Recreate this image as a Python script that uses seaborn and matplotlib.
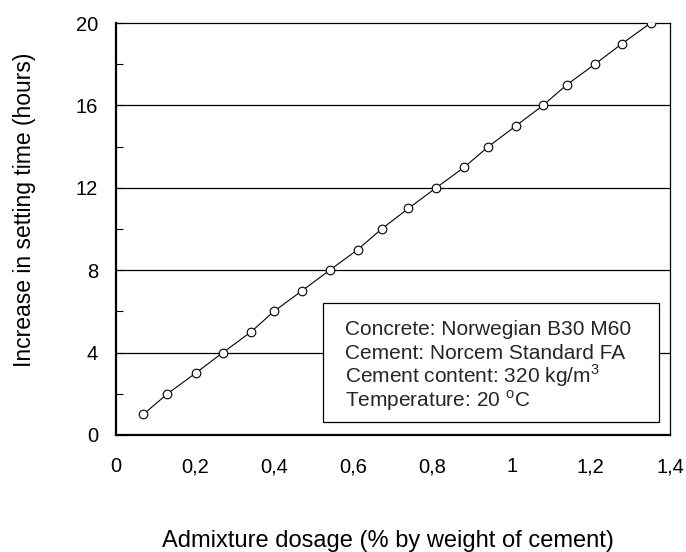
import numpy as np
import pandas as pd
import seaborn as sns
import matplotlib.pyplot as plt
from matplotlib.patches import Rectangle
from matplotlib.ticker import MultipleLocator

sns.set_theme(style="white")
plt.rcParams['font.family'] = ['Liberation Sans', 'DejaVu Sans']

# data
dosage = [0.069, 0.130, 0.201, 0.270, 0.341, 0.399, 0.470, 0.540, 0.611, 0.671,
          0.739, 0.809, 0.880, 0.941, 1.010, 1.079, 1.139, 1.210, 1.279, 1.351]
setting_time = [1, 2, 3, 4, 5, 6, 7, 8, 9, 10,
                11, 12, 13, 14, 15, 16, 17, 18, 19, 20]
x_ticks = [0, 0.2, 0.4, 0.6, 0.8, 1.0, 1.2, 1.4]
x_tick_labels = ["0", "0,2", "0,4", "0,6", "0,8", "1", "1,2", "1,4"]
y_ticks = [0, 4, 8, 12, 16, 20]
info_lines = ["Concrete: Norwegian B30 M60",
              "Cement: Norcem Standard FA",
              r"Cement content: 320 kg/m$^\mathregular{3}$",
              r"Temperature: 20 $^\mathregular{o}$C"]

df = pd.DataFrame({"dosage": dosage, "time": setting_time})

fig = plt.figure(figsize=(6.86, 5.52), dpi=100)
ax = fig.add_axes([0.1691, 0.2120, 0.8076, 0.7463])

for y in y_ticks[1:-1]:
    ax.axhline(y, color="black", lw=0.9, zorder=1)

sns.lineplot(data=df, x="dosage", y="time", ax=ax, color="black", lw=0.8,
             marker="o", markersize=6.2, markerfacecolor="white",
             markeredgecolor="black", markeredgewidth=0.8, zorder=3)

ax.set_xlim(0, 1.4)
ax.set_ylim(0, 20)
ax.set_xticks(x_ticks)
ax.set_xticklabels(x_tick_labels)
ax.set_yticks(y_ticks)
ax.yaxis.set_minor_locator(MultipleLocator(2))
ax.tick_params(axis="both", which="both", direction="in", length=5, width=0.8,
               color="black", labelsize=14.5, labelcolor="black")
ax.tick_params(axis="x", pad=27)
ax.tick_params(axis="y", pad=13)
ax.tick_params(axis="y", which="both", left=True)
for lab in ax.get_xticklabels():
    lab.set_va("baseline")

for side in ["left", "bottom"]:
    ax.spines[side].set_linewidth(1.6)
for side in ["top", "right"]:
    ax.spines[side].set_linewidth(0.9)
for sp in ax.spines.values():
    sp.set_color("black")

ax.set_xlabel("Admixture dosage (% by weight of cement)", fontsize=17, color="black")
ax.set_ylabel("Increase in setting time (hours)", fontsize=16.5, color="black")
ax.xaxis.label.set_va("baseline")
ax.xaxis.set_label_coords(0.49, -0.272)
ax.yaxis.set_label_coords(-0.145, 0.546)

ax.add_patch(Rectangle((0.3736, 0.0316), 0.6064, 0.2884, transform=ax.transAxes,
                       facecolor="white", edgecolor="black", lw=0.9, zorder=4))
for i, line in enumerate(info_lines):
    ax.text(0.4134, 0.2427 - i * 0.0578, line, transform=ax.transAxes,
            fontsize=15, va="baseline", ha="left", zorder=5)

fig.savefig("out.png", dpi=100)
